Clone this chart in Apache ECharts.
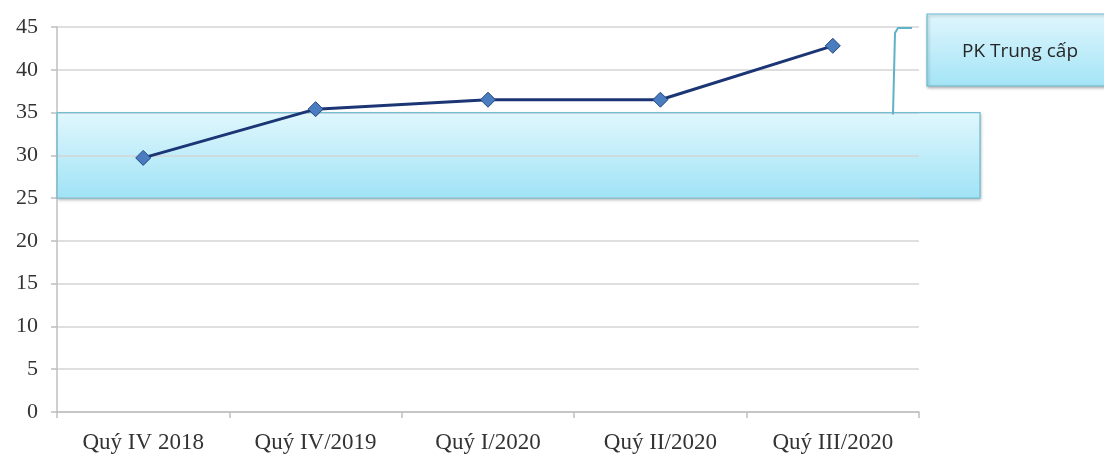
<!DOCTYPE html>
<html>
<head>
<meta charset="utf-8">
<script src="https://cdn.jsdelivr.net/npm/echarts@6/dist/echarts.min.js"></script>
<style>
  html, body { margin: 0; padding: 0; background: #fff; }
  #main { width: 1104px; height: 466px; }
</style>
</head>
<body>
<div id="main"></div>
<script>
var categories = ['Quý IV 2018', 'Quý IV/2019', 'Quý I/2020', 'Quý II/2020', 'Quý III/2020'];
var values = [29.7, 35.4, 36.5, 36.5, 42.8];
var bandRange = [25, 35];
var calloutText = 'PK Trung cấp';

var chart = echarts.init(document.getElementById('main'));

chart.setOption({
  backgroundColor: '#fff',
  animation: false,
  grid: { left: 57, right: 185, top: 27, bottom: 54 },
  xAxis: {
    type: 'category',
    data: categories,
    boundaryGap: true,
    axisLine: { lineStyle: { color: '#bfbfbf', width: 1.5 } },
    axisTick: { show: true, length: 6, lineStyle: { color: '#bfbfbf', width: 1.5 } },
    axisLabel: {
      color: '#333',
      fontFamily: 'Liberation Serif',
      fontSize: 23,
      margin: 19
    }
  },
  yAxis: {
    type: 'value',
    min: 0,
    max: 45,
    interval: 5,
    axisLine: { show: true, lineStyle: { color: '#bfbfbf', width: 1.5 } },
    axisTick: { show: true, length: 6, lineStyle: { color: '#bfbfbf', width: 1.5 } },
    axisLabel: {
      color: '#333',
      fontFamily: 'Liberation Serif',
      fontSize: 22,
      margin: 19
    },
    splitLine: { lineStyle: { color: '#d4d4d4', width: 1.5 } }
  },
  series: [{
    type: 'line',
    data: values,
    z: 5,
    symbol: 'diamond',
    symbolSize: 15,
    lineStyle: { color: '#1c3675', width: 3 },
    itemStyle: { color: '#4a7dc0', borderColor: '#24467f', borderWidth: 1 }
  }]
});

// band and callout, positioned from the y scale
var yTop = chart.convertToPixel({ yAxisIndex: 0 }, bandRange[1]);
var yBot = chart.convertToPixel({ yAxisIndex: 0 }, bandRange[0]);
var y45 = chart.convertToPixel({ yAxisIndex: 0 }, 45);

var bandGrad = new echarts.graphic.LinearGradient(0, 0, 0, 1, [
  { offset: 0, color: '#e0f7fd' },
  { offset: 1, color: '#a0e3f6' }
]);
var boxGrad = new echarts.graphic.LinearGradient(0, 0, 0, 1, [
  { offset: 0, color: '#e0f6fd' },
  { offset: 1, color: '#a3e4f6' }
]);

chart.setOption({
  graphic: [
    {
      // fill sits under the grid lines
      type: 'rect',
      z: -1,
      shape: { x: 57, y: yTop, width: 923, height: yBot - yTop },
      style: {
        fill: bandGrad,
        shadowBlur: 3,
        shadowColor: 'rgba(0,0,0,0.3)',
        shadowOffsetX: 1,
        shadowOffsetY: 1.5
      }
    },
    {
      // border on top of the grid lines
      type: 'rect',
      z: 1,
      shape: { x: 57, y: yTop, width: 923, height: yBot - yTop },
      style: { fill: null, stroke: '#74bdd2', lineWidth: 1.3 }
    },
    {
      type: 'polyline',
      z: 2,
      shape: { points: [[893, yTop + 2], [895, y45 + 6], [898, y45 + 1], [912, y45 + 1]] },
      style: { stroke: '#5fb2c8', lineWidth: 2, fill: null }
    },
    {
      type: 'rect',
      z: 2,
      shape: { x: 927, y: 14, width: 185, height: 72 },
      style: {
        fill: boxGrad,
        stroke: '#6fbdd3',
        lineWidth: 1.2,
        shadowBlur: 3,
        shadowColor: 'rgba(0,0,0,0.3)',
        shadowOffsetX: 1,
        shadowOffsetY: 1.5
      }
    },
    {
      type: 'text',
      z: 3,
      x: 1020,
      y: 52,
      style: {
        text: calloutText,
        fill: '#262626',
        font: '19px "Open Sans"',
        align: 'center',
        verticalAlign: 'middle'
      }
    }
  ]
});
</script>
</body>
</html>
